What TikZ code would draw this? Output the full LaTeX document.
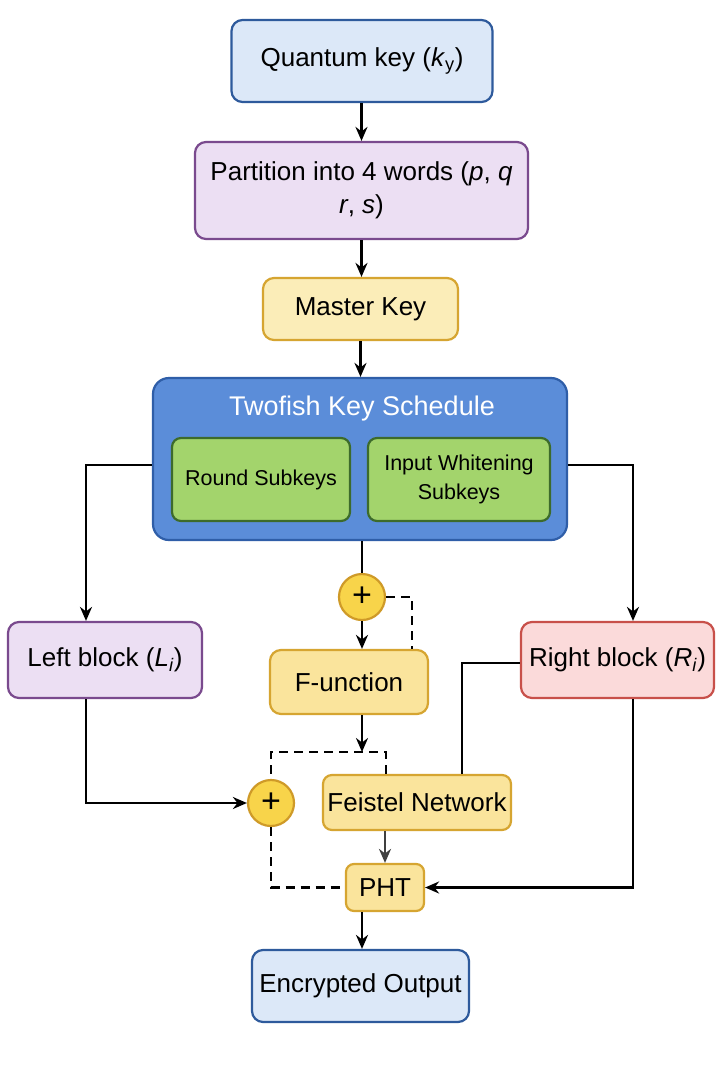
\documentclass[tikz,border=0pt]{standalone}
\usepackage{fontspec}
\setmainfont{Liberation Sans}
\usetikzlibrary{arrows.meta}
\definecolor{qfill}{HTML}{DCE8F8}
\definecolor{qdraw}{HTML}{2E5A9C}
\definecolor{pfill}{HTML}{ECDFF3}
\definecolor{pdraw}{HTML}{7A4A8E}
\definecolor{yfill}{HTML}{FBEDB8}
\definecolor{ydraw}{HTML}{D6A531}
\definecolor{y2fill}{HTML}{FAE49C}
\definecolor{kfill}{HTML}{5B8DD9}
\definecolor{kdraw}{HTML}{2F5EA8}
\definecolor{gfill}{HTML}{A3D46C}
\definecolor{gdraw}{HTML}{3D6B2B}
\definecolor{rfill}{HTML}{FBDADA}
\definecolor{rdraw}{HTML}{C8504A}
\definecolor{cfill}{HTML}{F8D44A}
\definecolor{cdraw}{HTML}{CF9A28}
\tikzset{
  box/.style={draw, rounded corners=11pt, line width=2.2pt, align=center, inner sep=0pt, font=\fontsize{26}{31}\selectfont},
  smallbox/.style={box, rounded corners=9pt, font=\fontsize{21.5}{27}\selectfont},
  plus/.style={circle, draw=cdraw, fill=cfill, line width=2.2pt, minimum size=46pt, inner sep=0pt, font=\fontsize{34}{34}\selectfont},
  arr/.style={line width=2.6pt, -{Stealth[length=14pt,width=12pt]}},
  ln/.style={line width=2.6pt},
  dsh/.style={line width=2.6pt, dash pattern=on 9pt off 6pt},
}
\begin{document}
\begin{tikzpicture}[x=1pt,y=-1pt]
\useasboundingbox (0,0) rectangle (722,1080);
\fill[white] (0,0) rectangle (722,1080);
\node[box, fill=qfill, draw=qdraw, minimum width=261pt, minimum height=82pt] (qk) at (362,61) {Quantum key (\textit{k}\textsubscript{y})};
\node[box, fill=pfill, draw=pdraw, minimum width=333pt, minimum height=97pt] (part) at (361.5,190.5) {Partition into 4 words (\textit{p}, \textit{q}\\[2pt] \textit{r}, \textit{s})};
\node[box, fill=yfill, draw=ydraw, minimum width=195pt, minimum height=62pt] (mk) at (360.5,309) {Master Key};
\node[box, fill=kfill, draw=kdraw, minimum width=414pt, minimum height=162pt, rounded corners=16pt] (ks) at (360,459) {};
\node[text=white, font=\fontsize{27}{32}\selectfont] (kst) at (362,409) {Twofish Key Schedule};
\node[smallbox, fill=gfill, draw=gdraw, minimum width=178pt, minimum height=83pt] (rs) at (261,479.5) {Round Subkeys};
\node[smallbox, fill=gfill, draw=gdraw, minimum width=182pt, minimum height=83pt] (iw) at (459,479.5) {Input Whitening\\[2pt] Subkeys};
\node[box, fill=pfill, draw=pdraw, minimum width=194pt, minimum height=76pt] (lb) at (105,660) {Left block (\textit{L}\textsubscript{\textit{i}})};
\node[box, fill=rfill, draw=rdraw, minimum width=193pt, minimum height=76pt] (rb) at (617.5,660) {Right block (\textit{R}\textsubscript{\textit{i}})};
\node[plus] (p1) at (362,597) {+};
\node[box, fill=y2fill, draw=ydraw, minimum width=158pt, minimum height=64pt] (fn) at (349,682) {F-unction};
\node[plus] (p2) at (271,803) {+};
\node[box, fill=y2fill, draw=ydraw, minimum width=188pt, minimum height=55pt, rounded corners=9pt] (fs) at (417,802.5) {Feistel Network};
\node[box, fill=y2fill, draw=ydraw, minimum width=78pt, minimum height=47pt, rounded corners=8pt] (pht) at (385,887.5) {PHT};
\node[box, fill=qfill, draw=qdraw, minimum width=217pt, minimum height=72pt] (eo) at (360.5,986) {Encrypted Output};
\coordinate (dj) at (362,752);
% connectors
\draw[arr] (qk.south -| part.north) -- (part.north);
\draw[arr] (part.south) -- (part.south |- mk.north);
\draw[arr] (mk.south) -- (mk.south |- ks.north);
\draw[arr] ([yshift=-6pt]ks.west) -| ([xshift=-19pt]lb.north);
\draw[arr] ([yshift=-6pt]ks.east) -| ([xshift=15.5pt]rb.north);
\draw[ln] (p1 |- ks.south) -- (p1.north);
\draw[arr] (p1.south) -- (p1.south |- fn.north);
\draw[dsh] (p1.east) -| ([xshift=63pt]fn.north);
\draw[arr] (p1 |- fn.south) -- (dj);
\draw[dsh] ([xshift=-31pt]fs.north) |- (dj) -| (p2.north);
\draw[arr] ([xshift=-19pt]lb.south) |- (p2.west);
\draw[ln] ([yshift=-3pt]rb.west) -| ([xshift=45pt]fs.north);
\draw[arr, draw=black!75] (pht |- fs.south) -- (pht.north);
\draw[dsh] (p2.south) |- (pht.west);
\draw[arr] ([xshift=15.5pt]rb.south) |- (pht.east);
\draw[arr] (p1 |- pht.south) -- (p1 |- eo.north);
\end{tikzpicture}
\end{document}
